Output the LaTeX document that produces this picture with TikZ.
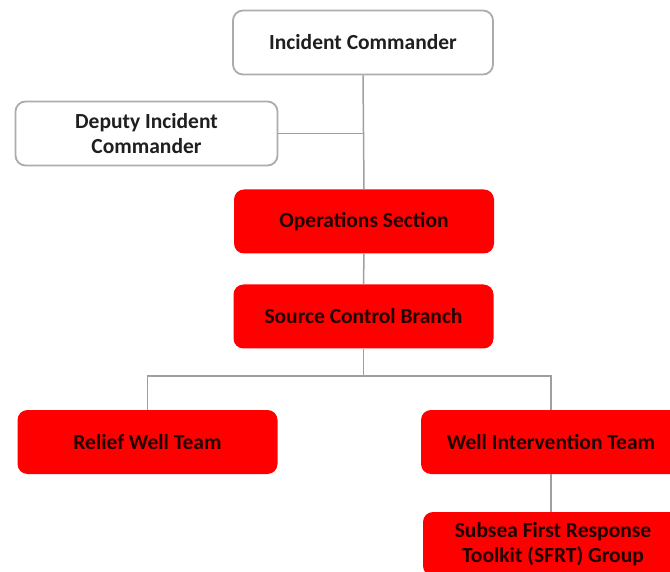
\documentclass[tikz,border=0pt]{standalone}
\usepackage{fontspec}
\setmainfont{Carlito}
\begin{document}
\begin{tikzpicture}[x=1pt,y=-1pt,
  box/.style={rectangle,rounded corners=10pt,minimum width=260pt,minimum height=64pt,
    align=center,font=\bfseries\fontsize{21.5}{25.5}\selectfont,inner sep=2pt},
  whitebox/.style={box,draw=gray!65,line width=1.8pt,fill=white,text=black!88},
  redbox/.style={box,fill=red,text=black!88!red},
  conn/.style={draw=gray!75,line width=1.5pt}]
\useasboundingbox (0,0) rectangle (670,572);
\node[whitebox] (ic) at (363,42.5) {Incident Commander};
\node[whitebox,minimum width=262pt] (dep) at (146.5,133.5) {Deputy Incident\\Commander};
\node[redbox] (ops) at (364,221.5) {Operations Section};
\node[redbox] (scb) at (363.5,316.5) {Source Control Branch};
\node[redbox] (rwt) at (147.5,442) {Relief Well Team};
\node[redbox] (wit) at (551,442) {Well Intervention Team};
\node[redbox] (sfrt) at (553,544) {Subsea First Response\\Toolkit (SFRT) Group};
\coordinate (bus) at (363.5,376);
\draw[conn] (ic.south) -- (ops.north);
\draw[conn] (dep.east) -- (dep.east -| ic.south);
\draw[conn] (ops.south) -- (scb.north);
\draw[conn] (scb.south) -- (bus);
\draw[conn] (rwt.north) |- (bus) -| (wit.north);
\draw[conn] (wit.south) -- (wit.south |- sfrt.north);
\end{tikzpicture}
\end{document}
